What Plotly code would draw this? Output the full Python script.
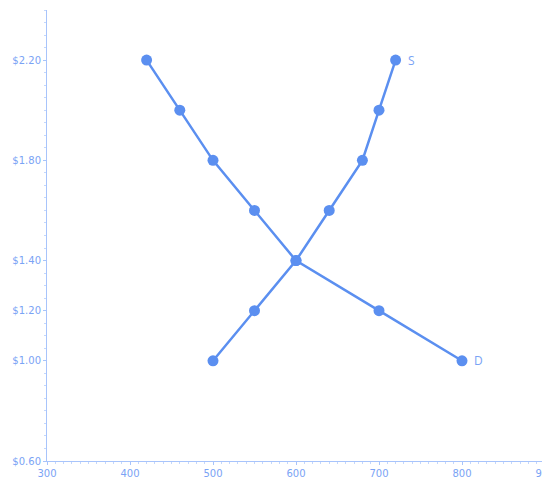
import plotly.graph_objects as go

supply_q = [500, 550, 600, 640, 680, 700, 720]
supply_p = [1.00, 1.20, 1.40, 1.60, 1.80, 2.00, 2.20]
demand_q = [420, 460, 500, 550, 600, 700, 800]
demand_p = [2.20, 2.00, 1.80, 1.60, 1.40, 1.20, 1.00]
y_ticks = [0.60, 1.00, 1.20, 1.40, 1.80, 2.20]
y_tick_labels = ["$0.60", "$1.00", "$1.20", "$1.40", "$1.80", "$2.20"]
x_ticks = [300, 400, 500, 600, 700, 800, 900]

line_color = "#5b8ff0"
text_color = "#7aa3f5"

fig = go.Figure()
for q, p, name in [(supply_q, supply_p, "S"), (demand_q, demand_p, "D")]:
    fig.add_trace(go.Scatter(
        x=q, y=p, mode="lines+markers", name=name,
        line=dict(color=line_color, width=2.5),
        marker=dict(color=line_color, size=11),
        showlegend=False, hoverinfo="x+y"))

fig.add_annotation(x=supply_q[-1], y=supply_p[-1], text="S", showarrow=False,
                   xanchor="left", xshift=10, font=dict(color=text_color, size=12))
fig.add_annotation(x=demand_q[-1], y=demand_p[-1], text="D", showarrow=False,
                   xanchor="left", xshift=10, font=dict(color=text_color, size=12))

axis_common = dict(
    showgrid=False, zeroline=False, showline=True, linecolor="#a8c4fb", linewidth=1,
    ticks="outside", ticklen=3, tickcolor="#a8c4fb",
    tickfont=dict(color=text_color, size=10, family="DejaVu Sans"),
    ticklabeloverflow="allow", automargin=False,
)
fig.update_xaxes(range=[300, 900], tickvals=x_ticks,
                 minor=dict(dtick=10, ticks="outside", ticklen=2, tickcolor="#c4d7fc"),
                 **axis_common)
fig.update_yaxes(range=[0.6, 2.4], tickvals=y_ticks, ticktext=y_tick_labels,
                 minor=dict(dtick=0.05, tick0=0.6, ticks="outside", ticklen=2, tickcolor="#c4d7fc"),
                 **axis_common)

fig.update_layout(width=542, height=473, plot_bgcolor="white", paper_bgcolor="white",
                  margin=dict(l=39, r=5, t=2, b=20))
fig.write_html("out.html")
